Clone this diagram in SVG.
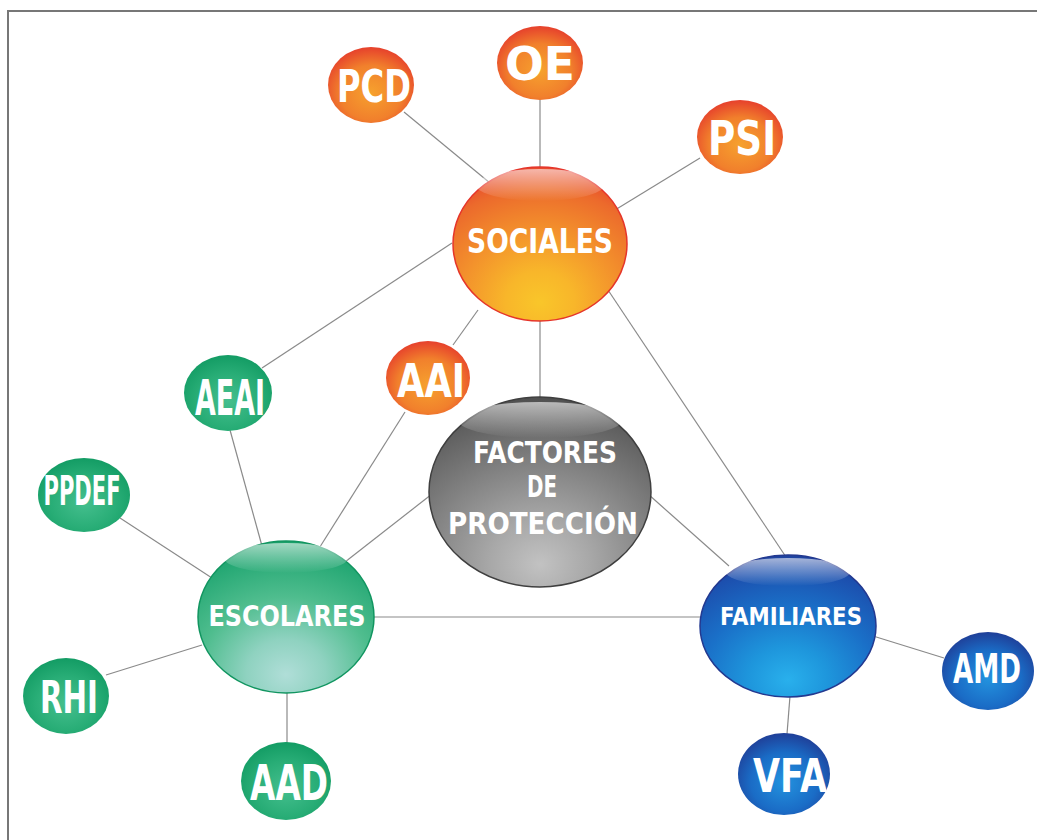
<svg xmlns="http://www.w3.org/2000/svg" width="1037" height="840" viewBox="0 0 1037 840">
<defs>
<radialGradient id="gOrange" cx="0.5" cy="0.85" r="0.9" fx="0.5" fy="0.88">
<stop offset="0" stop-color="#f9c62a"/>
<stop offset="0.22" stop-color="#f8b62a"/>
<stop offset="0.5" stop-color="#f3922c"/>
<stop offset="0.8" stop-color="#ec6a2c"/>
<stop offset="1" stop-color="#e63a2c"/>
</radialGradient>
<radialGradient id="gGrey" cx="0.5" cy="0.85" r="0.9" fx="0.5" fy="0.88">
<stop offset="0" stop-color="#c2c2c2"/>
<stop offset="0.25" stop-color="#a8a8a8"/>
<stop offset="0.55" stop-color="#848484"/>
<stop offset="0.85" stop-color="#606060"/>
<stop offset="1" stop-color="#454545"/>
</radialGradient>
<radialGradient id="gGreen" cx="0.5" cy="0.85" r="0.9" fx="0.5" fy="0.88">
<stop offset="0" stop-color="#b0ded8"/>
<stop offset="0.25" stop-color="#8fd2c0"/>
<stop offset="0.55" stop-color="#4fbd8e"/>
<stop offset="0.85" stop-color="#25a874"/>
<stop offset="1" stop-color="#129a62"/>
</radialGradient>
<radialGradient id="gBlue" cx="0.5" cy="0.85" r="0.9" fx="0.5" fy="0.88">
<stop offset="0" stop-color="#29b0ec"/>
<stop offset="0.25" stop-color="#1e96dc"/>
<stop offset="0.55" stop-color="#1a70c8"/>
<stop offset="0.85" stop-color="#1c4fae"/>
<stop offset="1" stop-color="#213a94"/>
</radialGradient>
<radialGradient id="sOrange" cx="0.5" cy="0.6" r="0.6">
<stop offset="0" stop-color="#f6a12e"/>
<stop offset="0.6" stop-color="#f1802c"/>
<stop offset="1" stop-color="#e6402c"/>
</radialGradient>
<radialGradient id="sGreen" cx="0.5" cy="0.6" r="0.6">
<stop offset="0" stop-color="#45bf8e"/>
<stop offset="0.6" stop-color="#28ad76"/>
<stop offset="1" stop-color="#139c64"/>
</radialGradient>
<radialGradient id="sBlue" cx="0.5" cy="0.6" r="0.6">
<stop offset="0" stop-color="#2392de"/>
<stop offset="0.6" stop-color="#1a6cc6"/>
<stop offset="1" stop-color="#1f3f98"/>
</radialGradient>
<linearGradient id="gloss" x1="0" y1="0" x2="0" y2="1">
<stop offset="0" stop-color="#ffffff" stop-opacity="0.6"/>
<stop offset="1" stop-color="#ffffff" stop-opacity="0"/>
</linearGradient>
</defs>
<style>
.frame{stroke:#777;stroke-width:2;fill:none}
.edge{stroke:#8a8a8a;stroke-width:1.2;fill:none}
.big{stroke-width:1.5}
.t{font-family:"DejaVu Sans","Liberation Sans",sans-serif;font-weight:bold;fill:#ffffff;text-anchor:middle}
.gloss{fill:url(#gloss)}
</style>
<rect width="1037" height="840" fill="#ffffff"/>
<path class="frame" d="M8 840 V11 H1037"/>
<g id="connectors">
<line class="edge" x1="404" y1="112" x2="490" y2="183"/>
<line class="edge" x1="540" y1="99" x2="540" y2="168"/>
<line class="edge" x1="700" y1="158" x2="615" y2="210"/>
<line class="edge" x1="262" y1="368" x2="452" y2="243"/>
<line class="edge" x1="453" y1="345" x2="478" y2="310"/>
<line class="edge" x1="540" y1="318" x2="540" y2="398"/>
<line class="edge" x1="608" y1="290" x2="786" y2="557"/>
<line class="edge" x1="230" y1="430" x2="262" y2="546"/>
<line class="edge" x1="405" y1="412" x2="318" y2="550"/>
<line class="edge" x1="432" y1="494" x2="345" y2="562"/>
<line class="edge" x1="648" y1="494" x2="729" y2="566"/>
<line class="edge" x1="372" y1="617" x2="702" y2="617"/>
<line class="edge" x1="120" y1="518" x2="212" y2="578"/>
<line class="edge" x1="106" y1="675" x2="202" y2="645"/>
<line class="edge" x1="287" y1="692" x2="287" y2="743"/>
<line class="edge" x1="873" y1="636" x2="944" y2="658"/>
<line class="edge" x1="790" y1="696" x2="787" y2="734"/>
</g>
<g id="sociales">
<ellipse cx="540" cy="244" rx="87" ry="77" fill="url(#gOrange)" stroke="#e5352a" class="big"/>
<ellipse class="gloss" cx="540" cy="185" rx="64" ry="16"/>
<text class="t" x="540" y="253" font-size="34" textLength="146" lengthAdjust="spacingAndGlyphs">SOCIALES</text>
</g>
<g id="factores">
<ellipse cx="540" cy="492" rx="111" ry="95" fill="url(#gGrey)" stroke="#3f3f3f" class="big"/>
<ellipse class="gloss" cx="540" cy="420" rx="82" ry="18"/>
<text class="t" x="545" y="463" font-size="31" textLength="144" lengthAdjust="spacingAndGlyphs">FACTORES</text>
<text class="t" x="542" y="497" font-size="31" textLength="30" lengthAdjust="spacingAndGlyphs">DE</text>
<text class="t" x="543" y="534" font-size="30" textLength="190" lengthAdjust="spacingAndGlyphs">PROTECCIÓN</text>
</g>
<g id="escolares">
<ellipse cx="286" cy="617" rx="88" ry="76" fill="url(#gGreen)" stroke="#119560" class="big"/>
<ellipse class="gloss" cx="286" cy="558" rx="62" ry="15"/>
<text class="t" x="287" y="626" font-size="29" textLength="157" lengthAdjust="spacingAndGlyphs">ESCOLARES</text>
</g>
<g id="familiares">
<ellipse cx="788" cy="626" rx="88" ry="71" fill="url(#gBlue)" stroke="#233990" class="big"/>
<ellipse class="gloss" cx="788" cy="572" rx="62" ry="14"/>
<text class="t" x="791" y="625" font-size="25" textLength="142" lengthAdjust="spacingAndGlyphs">FAMILIARES</text>
</g>
<g id="pcd">
<ellipse cx="371" cy="85" rx="43" ry="38" fill="url(#sOrange)"/>
<text class="t" x="374" y="102" font-size="44" textLength="74" lengthAdjust="spacingAndGlyphs">PCD</text>
</g>
<g id="oe">
<ellipse cx="540" cy="63" rx="43" ry="37" fill="url(#sOrange)"/>
<text class="t" x="540" y="80" font-size="46" textLength="70" lengthAdjust="spacingAndGlyphs">OE</text>
</g>
<g id="psi">
<ellipse cx="740" cy="137" rx="43" ry="37" fill="url(#sOrange)"/>
<text class="t" x="742" y="155" font-size="48" textLength="68" lengthAdjust="spacingAndGlyphs">PSI</text>
</g>
<g id="aai">
<ellipse cx="428" cy="378" rx="42" ry="37" fill="url(#sOrange)"/>
<text class="t" x="431" y="397" font-size="46" textLength="68" lengthAdjust="spacingAndGlyphs">AAI</text>
</g>
<g id="aeai">
<ellipse cx="228" cy="393" rx="44" ry="38" fill="url(#sGreen)"/>
<text class="t" x="230" y="415" font-size="50" textLength="70" lengthAdjust="spacingAndGlyphs">AEAI</text>
</g>
<g id="ppdef">
<ellipse cx="84" cy="495" rx="46" ry="37" fill="url(#sGreen)"/>
<text class="t" x="82" y="505" font-size="40" textLength="77" lengthAdjust="spacingAndGlyphs">PPDEF</text>
</g>
<g id="rhi">
<ellipse cx="66" cy="696" rx="43" ry="38" fill="url(#sGreen)"/>
<text class="t" x="69" y="713" font-size="44" textLength="58" lengthAdjust="spacingAndGlyphs">RHI</text>
</g>
<g id="aad">
<ellipse cx="286" cy="781" rx="45" ry="39" fill="url(#sGreen)"/>
<text class="t" x="289" y="800" font-size="50" textLength="78" lengthAdjust="spacingAndGlyphs">AAD</text>
</g>
<g id="amd">
<ellipse cx="988" cy="671" rx="46" ry="39" fill="url(#sBlue)"/>
<text class="t" transform="translate(987 683) scale(1 1.3)" x="0" y="0" font-size="32" textLength="68" lengthAdjust="spacingAndGlyphs">AMD</text>
</g>
<g id="vfa">
<ellipse cx="784" cy="774" rx="46" ry="41" fill="url(#sBlue)"/>
<text class="t" x="790" y="792" font-size="46" textLength="74" lengthAdjust="spacingAndGlyphs">VFA</text>
</g>
</svg>
